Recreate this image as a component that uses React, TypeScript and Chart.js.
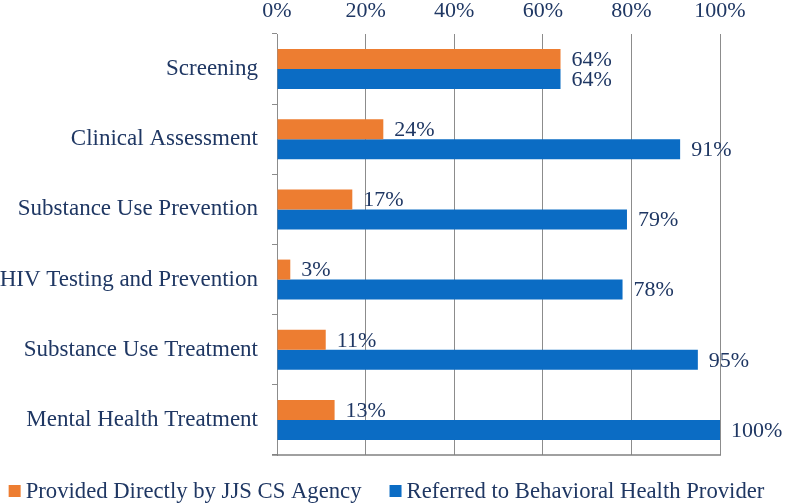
import React, { useEffect, useRef } from "react";
import { Chart, registerables } from "chart.js";

Chart.register(...registerables);

const categories = [
  "Screening",
  "Clinical Assessment",
  "Substance Use Prevention",
  "HIV Testing and Prevention",
  "Substance Use Treatment",
  "Mental Health Treatment",
];
const providedDirectly = [64, 24, 17, 3, 11, 13];
const referred = [64, 91, 79, 78, 95, 100];
const seriesNames = [
  "Provided Directly by JJS CS Agency",
  "Referred to Behavioral Health Provider",
];
const xTicks = [0, 20, 40, 60, 80, 100];

const TEXT = "#1F3763";
const GRID = "#8C8C8C";
const ORANGE = "#ED7D31";
const BLUE = "#0B6CC4";
const FONT = "'Liberation Serif', 'Times New Roman', serif";

const valueLabels = {
  id: "valueLabels",
  afterDatasetsDraw(chart: any) {
    const { ctx } = chart;
    ctx.save();
    ctx.font = `22px ${FONT}`;
    ctx.fillStyle = TEXT;
    ctx.textAlign = "left";
    ctx.textBaseline = "middle";
    chart.data.datasets.forEach((ds: any, di: number) => {
      const meta = chart.getDatasetMeta(di);
      meta.data.forEach((bar: any, i: number) => {
        ctx.fillText(`${ds.data[i]}%`, bar.x + 11, bar.y + 1);
      });
    });
    ctx.restore();
  },
};

const bottomRule = {
  id: "bottomRule",
  afterDraw(chart: any) {
    const { ctx, chartArea } = chart;
    ctx.save();
    ctx.strokeStyle = "#808080";
    ctx.lineWidth = 1.5;
    ctx.beginPath();
    ctx.moveTo(chartArea.left - 5, chartArea.bottom);
    ctx.lineTo(chartArea.right + 1, chartArea.bottom);
    ctx.stroke();
    ctx.restore();
  },
};

const bottomLegend = {
  id: "bottomLegend",
  afterDraw(chart: any) {
    const { ctx, chartArea } = chart;
    const box = 12;
    const gapText = 5;
    const gapItems = 28;
    ctx.save();
    ctx.font = `22.7px ${FONT}`;
    ctx.textBaseline = "middle";
    ctx.textAlign = "left";
    const items = chart.data.datasets.map((ds: any) => ({
      text: ds.label,
      color: ds.backgroundColor,
      w: box + gapText + ctx.measureText(ds.label).width,
    }));
    const total =
      items.reduce((a: number, it: any) => a + it.w, 0) + gapItems * (items.length - 1);
    let x = (chart.width - total) / 2 - 7;
    const yc = chartArea.bottom + 36;
    items.forEach((it: any) => {
      ctx.fillStyle = it.color;
      ctx.fillRect(x, yc - box / 2, box, box);
      ctx.fillStyle = TEXT;
      ctx.fillText(it.text, x + box + gapText, yc + 1);
      x += it.w + gapItems;
    });
    ctx.restore();
  },
};

export default function App() {
  const ref = useRef<HTMLCanvasElement | null>(null);

  useEffect(() => {
    document.body.style.margin = "0";
    const canvas = ref.current;
    if (!canvas) return;
    const chart = new Chart(canvas, {
      type: "bar",
      data: {
        labels: categories,
        datasets: [
          {
            label: seriesNames[0],
            data: providedDirectly,
            backgroundColor: ORANGE,
            borderWidth: 0,
            barPercentage: 1,
            categoryPercentage: 0.57,
          },
          {
            label: seriesNames[1],
            data: referred,
            backgroundColor: BLUE,
            borderWidth: 0,
            barPercentage: 1,
            categoryPercentage: 0.57,
          },
        ],
      },
      options: {
        indexAxis: "y",
        animation: false,
        responsive: true,
        maintainAspectRatio: false,
        layout: { padding: { left: 0, right: 0, top: 0, bottom: 48 } },
        plugins: {
          tooltip: { enabled: false },
          legend: { display: false },
        },
        scales: {
          x: {
            position: "top",
            min: 0,
            max: 100,
            afterBuildTicks: (s: any) => {
              s.ticks = xTicks.map((v) => ({ value: v }));
            },
            afterFit: (s: any) => {
              s.height = 34;
            },
            ticks: {
              padding: 10,
              color: TEXT,
              font: { family: FONT, size: 22 },
              callback: (v: any) => `${v}%`,
            },
            grid: { color: GRID, drawTicks: false, lineWidth: 1 },
            border: { display: false },
          },
          y: {
            afterFit: (s: any) => {
              s.width = 277;
              s.paddingTop = 0;
              s.paddingBottom = 0;
            },
            ticks: {
              padding: 14,
              color: TEXT,
              font: { family: FONT, size: 23 },
            },
            grid: {
              offset: true,
              drawOnChartArea: false,
              color: GRID,
              tickColor: GRID,
              tickLength: 5,
            },
            border: { display: true, color: GRID, width: 1 },
          },
          yRight: {
            type: "category",
            position: "right",
            labels: categories,
            afterFit: (s: any) => {
              s.width = 67;
            },
            ticks: { display: false },
            grid: { display: false, drawTicks: false },
            border: { display: false },
          },
        },
      },
      plugins: [valueLabels, bottomRule, bottomLegend],
    });
    return () => chart.destroy();
  }, []);

  return (
    <div style={{ position: "fixed", left: 0, top: 0, width: 787, height: 503, background: "#fff" }}>
      <canvas ref={ref} />
    </div>
  );
}
